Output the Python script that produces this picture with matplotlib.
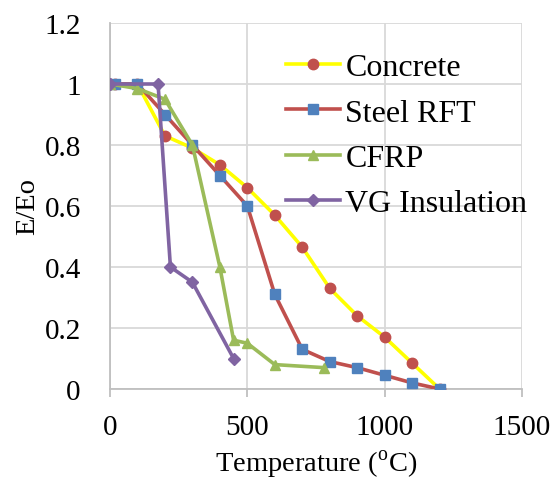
import matplotlib.pyplot as plt

plt.rcParams['font.family'] = ['Liberation Serif', 'DejaVu Serif']
plt.rcParams['mathtext.fontset'] = 'custom'
plt.rcParams['mathtext.rm'] = 'Liberation Serif'

# data
concrete_t = [0, 20, 100, 200, 300, 400, 500, 600, 700, 800, 900, 1000, 1100, 1200]
concrete_e = [1, 1, 1, 0.83, 0.79, 0.735, 0.66, 0.57, 0.465, 0.33, 0.24, 0.17, 0.085, 0]

steel_t = [20, 100, 200, 300, 400, 500, 600, 700, 800, 900, 1000, 1100, 1200]
steel_e = [1, 1, 0.9, 0.8, 0.7, 0.6, 0.31, 0.13, 0.09, 0.07, 0.045, 0.02, 0]

cfrp_t = [0, 100, 200, 300, 400, 450, 500, 600, 780]
cfrp_e = [1, 0.985, 0.95, 0.8, 0.4, 0.16, 0.15, 0.08, 0.07]

vg_t = [0, 175, 220, 300, 450]
vg_e = [1, 1, 0.4, 0.35, 0.1]

xticks = [0, 500, 1000, 1500]
yticks = [0, 0.2, 0.4, 0.6, 0.8, 1, 1.2]
ytick_labels = ['0', '0.2', '0.4', '0.6', '0.8', '1', '1.2']

fig = plt.figure(figsize=(5.56, 4.81), dpi=100)
ax = fig.add_axes([110 / 556, 1 - 390 / 481, 412 / 556, 366 / 481])

lw = 2.6
ax.plot(concrete_t, concrete_e, color='#FFFF00', lw=lw, marker='o', ms=7.5,
        mfc='#C0504D', mec='#C0504D', label='Concrete', zorder=3)
ax.plot(steel_t, steel_e, color='#C0504D', lw=lw, marker='s', ms=7.5,
        mfc='#4F81BD', mec='#4F81BD', label='Steel RFT', zorder=4)
ax.plot(cfrp_t, cfrp_e, color='#9BBB59', lw=lw, marker='^', ms=7.5,
        mfc='#9BBB59', mec='#9BBB59', label='CFRP', zorder=5)
ax.plot(vg_t, vg_e, color='#8064A2', lw=lw, marker='D', ms=6,
        mfc='#8064A2', mec='#8064A2', label='VG Insulation', zorder=6)

ax.set_xlim(0, 1500)
ax.set_ylim(0, 1.2)
ax.set_xticks(xticks)
ax.set_yticks(yticks)
ax.set_yticklabels(ytick_labels)
ax.grid(True, color='#D9D9D9', lw=1.3)
ax.set_axisbelow(True)

for s in ['top', 'right']:
    ax.spines[s].set_visible(False)
for s in ['left', 'bottom']:
    ax.spines[s].set_color('#BFBFBF')
    ax.spines[s].set_linewidth(1.3)

ax.tick_params(axis='x', direction='out', length=6, width=1.3, color='#BFBFBF',
               labelsize=21, pad=12)
ax.tick_params(axis='y', length=0, labelsize=21, pad=21)

ax.set_xlabel(r'Temperature ($^{\mathrm{o}}$C)', fontsize=20.5, labelpad=6)
ax.set_ylabel('E/Eo', fontsize=20.5, labelpad=3)

ax.legend(loc='upper left', bbox_to_anchor=(0.396, 0.953), frameon=False,
          fontsize=23, handlelength=1.7, handletextpad=0.16, labelspacing=0.5,
          borderaxespad=0)

fig.savefig('out.png', dpi=100)
